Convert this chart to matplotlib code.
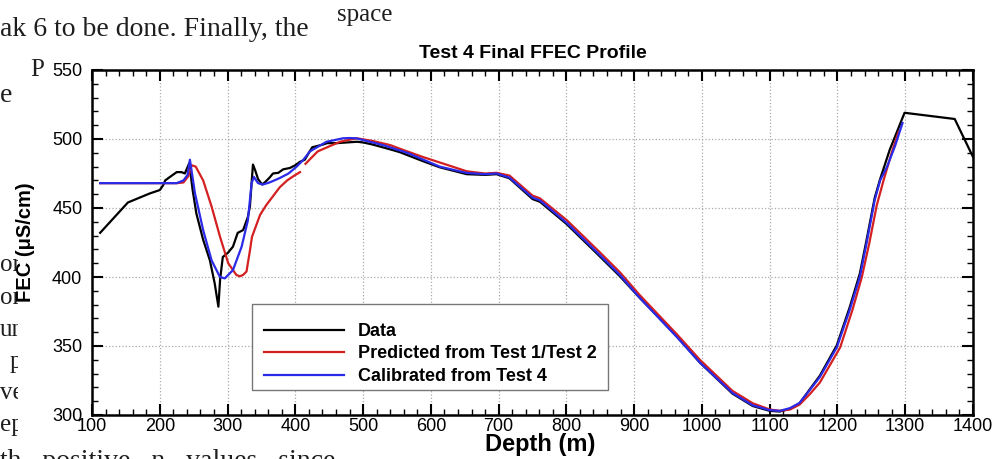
import numpy as np
import matplotlib.pyplot as plt
from matplotlib.ticker import MultipleLocator
from matplotlib.patches import Rectangle

plt.rcParams['font.family'] = ['Liberation Sans', 'DejaVu Sans']

# Measured data (black)
depth_data = [112, 153, 185, 200, 205, 208, 215, 225, 232, 237, 243.5, 248.5, 254, 264,
              274, 281, 286.5, 289, 293, 300.5, 308, 315, 323, 330, 333, 337.5, 341,
              345, 351, 356, 362, 367, 375, 382, 392, 400, 407, 414, 420, 425, 433,
              441, 447, 461, 476, 491, 500, 514, 540, 554, 588, 613, 653, 680, 697,
              716, 750, 761, 800, 845, 879, 908, 923, 963, 997, 1045, 1075, 1100,
              1115, 1130, 1144, 1159, 1174, 1199, 1218, 1233, 1243, 1255, 1263,
              1277, 1299, 1373, 1400]
fec_data = [432, 454, 460.5, 463, 466.5, 470, 472.5, 476, 476, 475, 482.5, 463, 446, 427,
            412, 395.5, 378.5, 398, 414.5, 417.5, 422, 432, 434, 443.5, 451, 481.5, 477,
            471, 467, 469, 472, 475, 475.5, 478, 479, 481, 483.5, 485, 490, 494, 495,
            496, 497, 497, 497.5, 498, 497.5, 496, 492.5, 490.5, 484, 479.5, 474.5, 474,
            474.5, 471.5, 456.5, 454.5, 438.5, 417, 400.5, 385, 377.5, 357, 338, 315.5,
            306.5, 303, 302.5, 304.5, 308.5, 318.5, 328.5, 350.5, 378, 402.5, 427, 457.5,
            471, 492, 519, 514.5, 487]

# Predicted from Test 1/Test 2 (red)
depth_pred = [112, 225, 235, 242, 247, 253, 264, 276.5, 289, 301, 313, 318, 323, 328,
              333, 336, 342, 348, 357, 367, 377, 388, 397, 407, np.nan, 415, 425,
              433, 447, 466, 480, 491, 514, 540, 554, 588, 613, 653, 680, 697, 716,
              750, 761, 801, 845, 879, 908, 963, 997, 1045, 1075, 1100, 1115, 1130,
              1144, 1159, 1174, 1204, 1222, 1236, 1247, 1258, 1268, 1280, 1290]
fec_pred = [468, 468, 468.5, 473, 481, 480, 470, 451, 429, 410, 401.5, 400.5, 401.5, 404,
            419, 429, 437, 445, 452, 458.5, 465, 470, 473, 476, np.nan, 482, 487,
            491, 494, 498, 499.5, 500.5, 498.6, 495.6, 493, 487, 483, 476.6, 475,
            475.5, 473.5, 459, 457, 441, 420, 403.4, 387, 358.5, 340, 317.5, 308.5,
            304, 303, 304, 307.5, 315, 323.5, 349, 376, 400, 424.6, 452, 470, 490, 505]

# Calibrated from Test 4 (blue)
depth_cal = [112, 200, 225, 235, 241, 244.5, 252, 264, 276.5, 288.8, 296, 308, 320.8,
             330, 335.5, 339, 345, 352, 362, 377, 390, 402, 412, 421.5, 432, 446,
             456, 470, 480, 490, 505, 530, 565, 613, 653, 680, 697, 716, 750, 761,
             801, 845, 879, 908, 963, 997, 1045, 1075, 1100, 1115, 1130, 1144, 1159,
             1174, 1199, 1218, 1233, 1243, 1255, 1263, 1273, 1285, 1296]
fec_cal = [468, 468, 468, 470, 474, 485, 460.5, 434, 412, 400, 399, 405, 422,
           441, 468, 472.5, 468, 467, 468.5, 471.7, 475, 480, 485, 491, 494, 498,
           499, 500.5, 500.7, 500.5, 498.6, 495.5, 490, 480, 475.4, 474.5, 475, 472,
           457.5, 455.5, 439, 418, 401.4, 385, 356.5, 338, 316, 307, 303.5, 303,
           305, 308.7, 318, 327.5, 349, 376, 400, 424.6, 455.8, 470, 479.7, 495, 511.6]

W, H = 1007, 459
fig = plt.figure(figsize=(W / 100, H / 100), dpi=100)

# page text around the pasted chart (drawn underneath it)
serif = ['Liberation Serif', 'DejaVu Serif']
page = dict(family=serif, fontsize=20, va='center', ha='left', color='#1e1e1e', zorder=-2)
fig.text(0.0, 1 - 30 / H, 'ak 6 to be done. Finally, the', **page)
fig.text(337 / W, 1 - 15 / H, 'space', **{**page, 'fontsize': 18})
fig.text(30 / W, 1 - 70 / H, 'P', **{**page, 'fontsize': 18})
fig.text(0.0, 1 - 95 / H, 'e', **page)
for word, ypx in [('or', 265), ('on', 298), ('un', 330), ('ve', 393), ('ep', 425)]:
    fig.text(0.0, 1 - ypx / H, word, **{**page, 'fontsize': 18})
fig.text(10 / W, 1 - 362 / H, 'p', **{**page, 'fontsize': 18})
fig.text(0.0, 1 - 449 / H, 'th   positive   n   values   since', **{**page, 'va': 'top'})

# white chart image covering the page text
fig.patches.append(Rectangle((18 / W, 1 - 448 / H), 1 - 18 / W, (448 - 82) / H,
                             transform=fig.transFigure, facecolor='white',
                             edgecolor='none', zorder=-1))

ax = fig.add_axes([92 / W, 44 / H, 881 / W, 345 / H])
ax.patch.set_alpha(0)

ax.plot(depth_data, fec_data, color='black', lw=1.6, label='Data')
ax.plot(depth_pred, fec_pred, color='#d42020', lw=1.6, label='Predicted from Test 1/Test 2')
ax.plot(depth_cal, fec_cal, color='#2a2ae8', lw=1.6, label='Calibrated from Test 4')

ax.set_xlim(100, 1400)
ax.set_ylim(300, 550)
ax.xaxis.set_major_locator(MultipleLocator(100))
ax.xaxis.set_minor_locator(MultipleLocator(20))
ax.yaxis.set_major_locator(MultipleLocator(50))
ax.yaxis.set_minor_locator(MultipleLocator(10))
ax.tick_params(which='both', direction='in', top=True, right=True, labelsize=13, width=1.5)
ax.tick_params(which='major', length=8)
ax.tick_params(axis='y', which='major', pad=7)
ax.tick_params(axis='x', which='major', pad=2)
ax.tick_params(which='minor', length=4, width=1)
for s in ax.spines.values():
    s.set_linewidth(1.8)
ax.grid(True, which='major', color='#aaaaaa', linestyle=':', linewidth=0.9)

ax.set_title('Test 4 Final FFEC Profile', fontsize=14, fontweight='bold', pad=9)
ax.set_xlabel('Depth (m)', fontsize=17, fontweight='bold')
ax.xaxis.set_label_coords(0.5085, -0.052)
ax.set_ylabel('FEC (μS/cm)', fontsize=14.5, fontweight='bold', labelpad=12)

# legend box drawn separately so the rows sit where they do in the original
ax.add_patch(Rectangle((0.1816, 0.0725), 0.4041, 0.2492, transform=ax.transAxes,
                       facecolor='white', edgecolor='#777777', lw=1.0, zorder=4))
ax.legend(loc='center left', bbox_to_anchor=(0.1955, 0.177), borderaxespad=0,
          frameon=False, handlelength=4.4, prop={'weight': 'bold', 'size': 13},
          labelspacing=0.3, borderpad=0, handletextpad=0.8)

fig.savefig('out.png', dpi=100)
